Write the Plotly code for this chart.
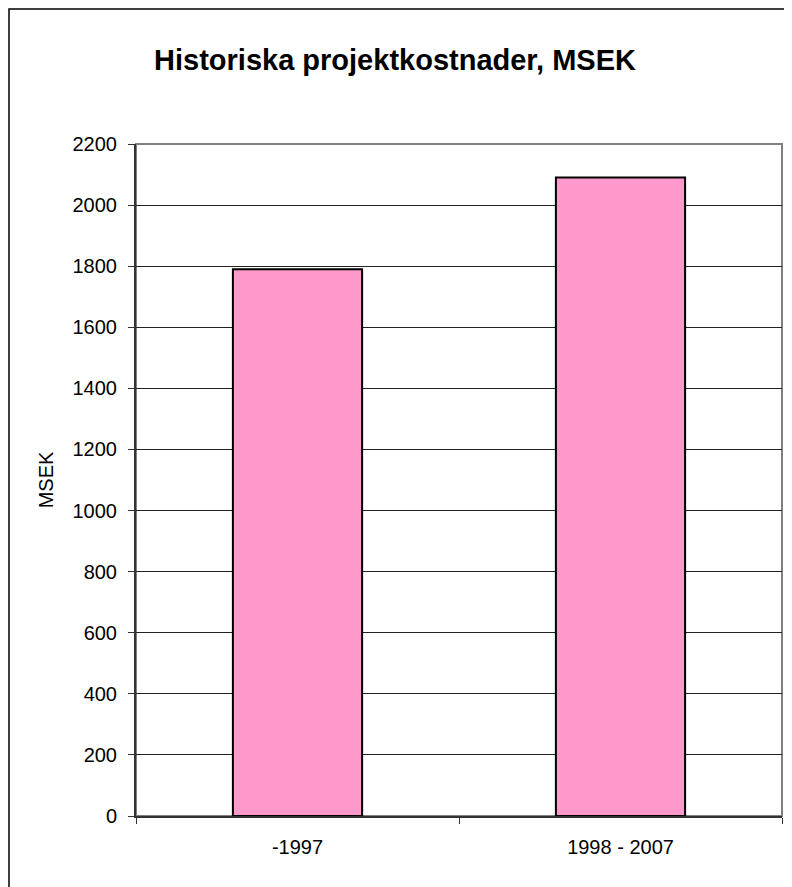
import plotly.graph_objects as go

categories = ["-1997", "1998 - 2007"]
values = [1790, 2090]
y_ticks = list(range(0, 2201, 200))

# page body has an 8px margin; figure occupies x 8..792, y 8..887
OX, OY = 8, 8
W, H = 784, 879
L = 136 - OX
T = 144 - OY
R = (OX + W) - 782
B = (OY + H) - 816
pw, ph = W - L - R, H - T - B

fig = go.Figure(go.Bar(
    x=categories, y=values,
    marker=dict(color="#FF99CC", line=dict(color="black", width=2)),
    width=0.4,
))

fig.update_layout(
    width=W, height=H,
    margin=dict(l=L, r=R, t=T, b=B),
    paper_bgcolor="white", plot_bgcolor="white",
    font=dict(family="Liberation Sans, Arial, sans-serif", size=20, color="black"),
    title=dict(text="<b>Historiska projektkostnader, MSEK</b>",
               font=dict(size=29, color="black"),
               x=(395 - OX) / W, xanchor="center", y=1 - (60 - OY) / H, yanchor="middle"),
    showlegend=False,
    shapes=[
        dict(type="rect", xref="paper", yref="paper",
             x0=(1 - L) / pw, x1=(W + 40 - L) / pw,
             y0=-(B + 40) / ph, y1=(ph + T - 1) / ph,
             line=dict(color="black", width=1.5), fillcolor="rgba(0,0,0,0)", layer="below"),
        dict(type="rect", xref="paper", yref="paper", x0=0, x1=1, y0=0, y1=1,
             line=dict(color="#808080", width=2), fillcolor="rgba(0,0,0,0)", layer="below"),
    ],
)

fig.update_xaxes(
    type="category", range=[-0.5, 1.5],
    showline=True, linecolor="#333333", linewidth=2,
    ticks="outside", tickson="boundaries", ticklen=6, tickcolor="#333333",
    showgrid=False, tickfont=dict(size=20), ticklabelstandoff=12,
)
fig.update_yaxes(
    range=[0, 2200], tickvals=y_ticks,
    showline=True, linecolor="#333333", linewidth=2,
    ticks="outside", ticklen=6, tickcolor="#333333",
    showgrid=True, gridcolor="#222222", gridwidth=1,
    tickfont=dict(size=20), ticklabelstandoff=7,
    title=dict(text="MSEK", font=dict(size=20, family="Liberation Sans, Arial, sans-serif"), standoff=14),
    zeroline=False,
)

fig.write_html("out.html")
